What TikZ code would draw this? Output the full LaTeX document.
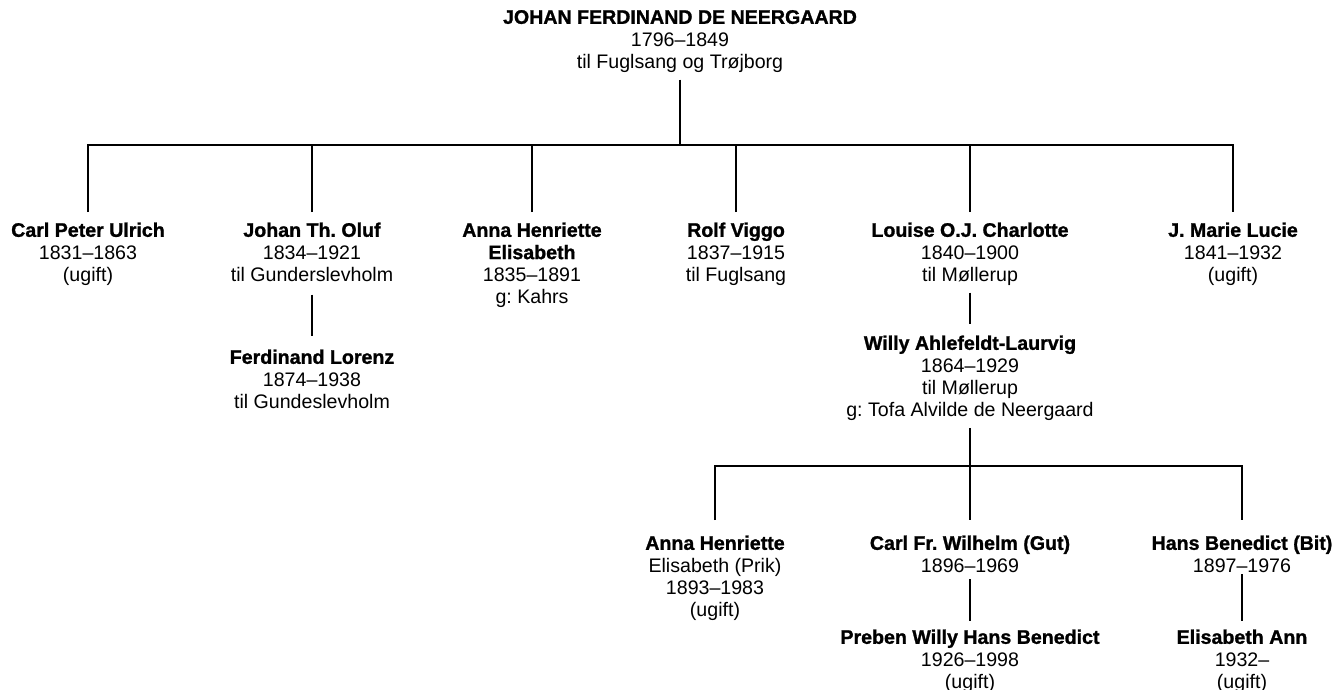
\documentclass[tikz,border=0pt]{standalone}
\usepackage{fontspec}
\setmainfont{Liberation Sans}[BoldFeatures={FakeBold=1.2}]
\begin{document}
\frenchspacing
\begin{tikzpicture}[x=1pt,y=-1pt,
  person/.style={align=center, inner sep=0pt, outer xsep=0pt, outer ysep=9pt,
    anchor=north, font=\fontsize{19.6}{22.3}\selectfont},
  link/.style={line width=1.3pt, black}]
\useasboundingbox[fill=white] (0,0) rectangle (1338,690);
% generation 0
\node[person] (root) at (680,-0.8) {\strut\textbf{JOHAN FERDINAND DE NEERGAARD}\\1796–1849\\til Fuglsang og Trøjborg\strut};
% generation 1
\node[person] (cpu) at (88,212.2) {\strut\textbf{Carl Peter Ulrich}\\1831–1863\\(ugift)\strut};
\node[person] (johan) at (312,212.2) {\strut\textbf{Johan Th. Oluf}\\1834–1921\\til Gunderslevholm\strut};
\node[person] (anna) at (532,212.2) {\strut\textbf{Anna Henriette}\\\textbf{Elisabeth}\\1835–1891\\g: Kahrs\strut};
\node[person] (rolf) at (736,212.2) {\strut\textbf{Rolf Viggo}\\1837–1915\\til Fuglsang\strut};
\node[person] (louise) at (970,212.2) {\strut\textbf{Louise O.J. Charlotte}\\1840–1900\\til Møllerup\strut};
\node[person] (marie) at (1233,212.2) {\strut\textbf{J. Marie Lucie}\\1841–1932\\(ugift)\strut};
% generation 2
\node[person] (ferd) at (312,339.2) {\strut\textbf{Ferdinand Lorenz}\\1874–1938\\til Gundeslevholm\strut};
\node[person] (willy) at (970,325.2) {\strut\textbf{Willy Ahlefeldt-Laurvig}\\1864–1929\\til Møllerup\\g: Tofa Alvilde de Neergaard\strut};
% generation 3
\node[person] (prik) at (715,525.2) {\strut\textbf{Anna Henriette}\\Elisabeth (Prik)\\1893–1983\\(ugift)\strut};
\node[person] (carlfr) at (970,525.2) {\strut\textbf{Carl Fr. Wilhelm (Gut)}\\1896–1969\strut};
\node[person] (hans) at (1242,525.2) {\strut\textbf{Hans Benedict (Bit)}\\1897–1976\strut};
% generation 4
\node[person] (preben) at (970,619.2) {\strut\textbf{Preben Willy Hans Benedict}\\1926–1998\\(ugift)\strut};
\node[person] (eann) at (1242,619.2) {\strut\textbf{Elisabeth Ann}\\1932–\\(ugift)\strut};
% bars
\coordinate (bar1) at (679,145);
\coordinate (bar2) at (970,466);
% connectors
\draw[link, shorten <=-4.5] (root.south) -- (root.south |- bar1);
\draw[link] (cpu.north) |- (bar1) -| (marie.north);
\draw[link] (johan.north) -- (johan.north |- bar1);
\draw[link] (anna.north) -- (anna.north |- bar1);
\draw[link] (rolf.north) -- (rolf.north |- bar1);
\draw[link] (louise.north) -- (louise.north |- bar1);
\draw[link, shorten <=-2.5, shorten >=3.2] (johan.south) -- (ferd.north);
\draw[link, shorten <=-4.5, shorten >=1] (louise.south) -- (willy.north);
\draw[link, shorten <=-4.5, shorten >=5] (willy.south) -- (carlfr.north);
\draw[link, shorten <=5, shorten >=5] (prik.north) |- (bar2) -| (hans.north);
\draw[link, shorten <=-8.5, shorten >=-2] (carlfr.south) -- (preben.north);
\draw[link, shorten <=-13.5, shorten >=-2] (hans.south) -- (eann.north);
\end{tikzpicture}
\end{document}
